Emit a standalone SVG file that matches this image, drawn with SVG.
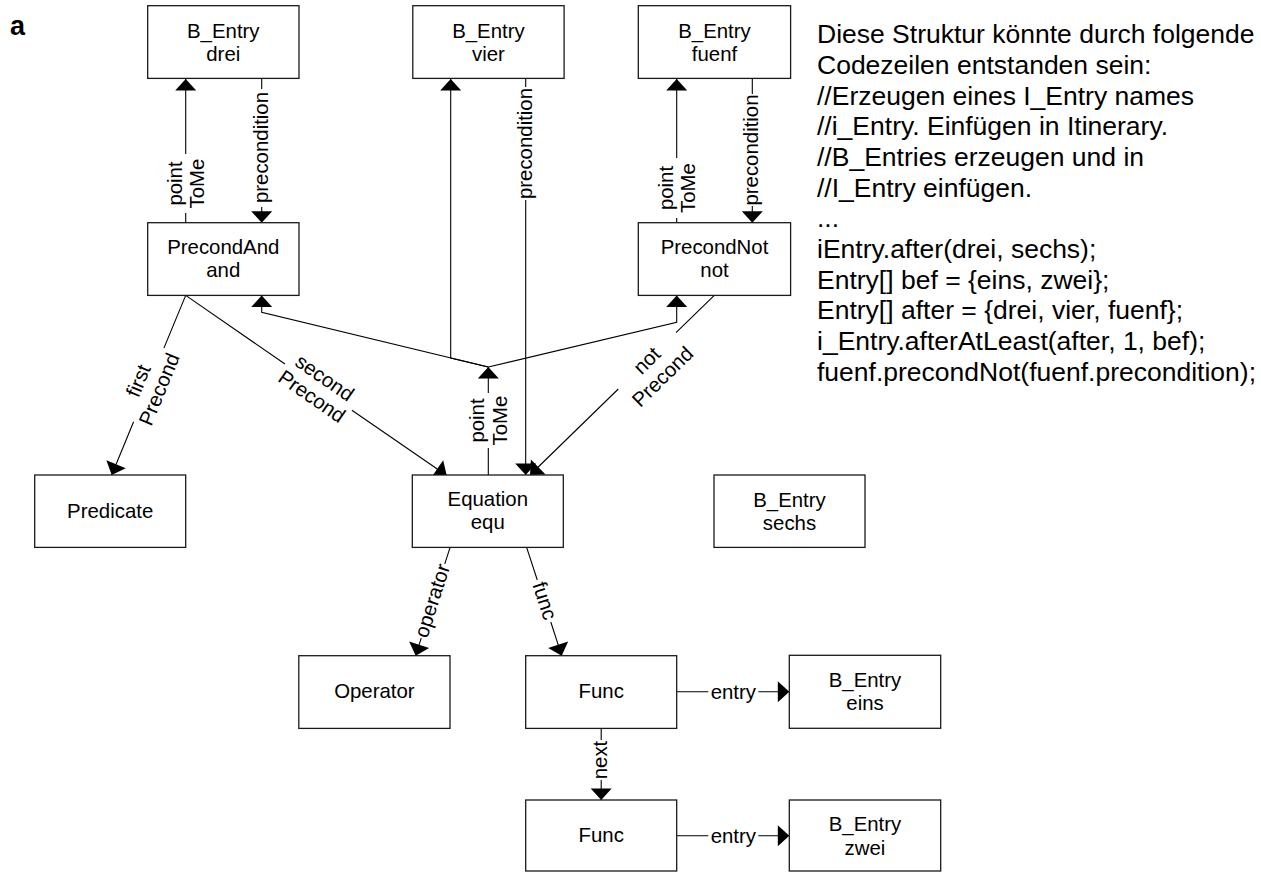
<svg xmlns="http://www.w3.org/2000/svg" width="1261" height="872" viewBox="0 0 1261 872">
  <defs>
    <style>
      .box { fill: #fff; stroke: #1a1a1a; stroke-width: 1.3; }
      .nt { font-family: "Liberation Sans", Arial, sans-serif; font-size: 20.4px; text-anchor: middle; fill: #000; }
      .el { font-family: "Liberation Sans", Arial, sans-serif; font-size: 20.4px; text-anchor: middle; fill: #000; }
      .cn { fill: none; stroke: #000; stroke-width: 1.1; marker-end: url(#arr); }
      .side { font-family: "Liberation Sans", Arial, sans-serif; font-size: 26.5px; fill: #000; }
      .tag { font-family: "Liberation Sans", Arial, sans-serif; font-size: 27px; font-weight: bold; fill: #000; }
    </style>
    <marker id="arr" markerUnits="userSpaceOnUse" markerWidth="13" markerHeight="22" viewBox="-12 -11 13 22" refX="0" refY="0" orient="auto">
      <path d="M0,0 L-11.5,-10.5 L-11.5,10.5 Z" fill="#000"/>
    </marker>
  </defs>

  <rect width="1261" height="872" fill="#fff"/>

  <text class="tag" x="10" y="35">a</text>

  <!-- connectors (lines are broken where a label sits) -->
  <g id="connectors">
    <!-- PrecondAnd -> drei : pointToMe -->
    <path class="cn" d="M185.7,222.7 V213 M185.7,154 V79"/>
    <g transform="translate(185.7,183.5) rotate(-90)">
      <text class="el" y="-4">point</text>
      <text class="el" y="18.5">ToMe</text>
    </g>
    <!-- drei -> PrecondAnd : precondition -->
    <path class="cn" d="M261.7,78.4 V89 M261.7,207 V222.7"/>
    <text class="el" transform="translate(261.7,147.5) rotate(-90)" y="6">precondition</text>

    <!-- PrecondAnd -> Predicate : firstPrecond -->
    <path class="cn" d="M185.7,295.4 L163.9,348.1 M133.6,421.7 L111.7,475"/>
    <g transform="translate(148.5,384.9) rotate(-67.65)">
      <text class="el" y="-4">first</text>
      <text class="el" y="18.5">Precond</text>
    </g>
    <!-- PrecondAnd -> Equation : secondPrecond -->
    <path class="cn" d="M185.7,295.4 L285,364 M351.9,410.2 L446.7,475.5"/>
    <g transform="translate(318.4,386.8) rotate(34.67)">
      <text class="el" y="-4">second</text>
      <text class="el" y="18.5">Precond</text>
    </g>

    <!-- PrecondNot -> Equation : notPrecond -->
    <path class="cn" d="M714.3,295.4 L676,332.7 M618.3,389 L530,475"/>
    <g transform="translate(647.1,360.9) rotate(-44.24)">
      <text class="el" y="6.5">not</text>
      <text class="el" y="29">Precond</text>
    </g>

    <!-- Equation -> junction : pointToMe -->
    <path class="cn" d="M488.3,475 V448 M488.3,393 V367"/>
    <g transform="translate(488.3,420.5) rotate(-90)">
      <text class="el" y="-4">point</text>
      <text class="el" y="18.5">ToMe</text>
    </g>
    <!-- junction branches -->
    <path class="cn" d="M488.3,367 L261.7,312.3 V295.5"/>
    <path class="cn" d="M488.3,367 L676.7,322.3 V295.5"/>
    <path class="cn" d="M488.3,367 L450.7,358 V79"/>

    <!-- vier -> Equation : precondition -->
    <path class="cn" d="M525.7,78.4 V87 M525.7,200 V475"/>
    <text class="el" transform="translate(525.7,143.5) rotate(-90)" y="6">precondition</text>

    <!-- PrecondNot -> fuenf : pointToMe -->
    <path class="cn" d="M676.7,222.7 V218 M676.7,158 V79"/>
    <g transform="translate(676.7,188) rotate(-90)">
      <text class="el" y="-4">point</text>
      <text class="el" y="18.5">ToMe</text>
    </g>
    <!-- fuenf -> PrecondNot : precondition -->
    <path class="cn" d="M752.3,78.4 V94 M752.3,206 V222.7"/>
    <text class="el" transform="translate(752.3,150) rotate(-90)" y="6">precondition</text>

    <!-- Equation -> Operator : operator -->
    <path class="cn" d="M450,547.7 L444.8,563.8 M421.2,638.2 L415.7,655.7"/>
    <text class="el" transform="translate(433,601) rotate(-72.44)" y="6">operator</text>
    <!-- Equation -> Func : func -->
    <path class="cn" d="M526.7,547.7 L537.3,580 M550.8,622 L561.7,655.7"/>
    <text class="el" transform="translate(544,601) rotate(72.1)" y="6">func</text>

    <!-- Func -> Func : next -->
    <path class="cn" d="M601.2,728.4 V740 M601.2,780 V800"/>
    <text class="el" transform="translate(601.2,760) rotate(-90)" y="6">next</text>

    <!-- Func -> B_Entry : entry -->
    <path class="cn" d="M676.7,691.7 H708.3 M758.3,691.7 H789.3"/>
    <text class="el" x="733.3" y="698.5">entry</text>
    <path class="cn" d="M676.7,835.7 H708.3 M758.3,835.7 H789.3"/>
    <text class="el" x="733.3" y="842.5">entry</text>
  </g>

  <!-- nodes -->
  <g id="drei">
    <rect class="box" x="147.7" y="5.7" width="151.3" height="72.7"/>
    <text class="nt" x="223.3" y="37.7">B_Entry</text>
    <text class="nt" x="223.3" y="61">drei</text>
  </g>
  <g id="vier">
    <rect class="box" x="412.8" y="5.7" width="151.3" height="72.7"/>
    <text class="nt" x="488.4" y="37.7">B_Entry</text>
    <text class="nt" x="488.4" y="61">vier</text>
  </g>
  <g id="fuenf">
    <rect class="box" x="638.3" y="5.7" width="152.3" height="72.7"/>
    <text class="nt" x="714.5" y="37.7">B_Entry</text>
    <text class="nt" x="714.5" y="61">fuenf</text>
  </g>
  <g id="precondAnd">
    <rect class="box" x="147.7" y="222.7" width="151.3" height="72.7"/>
    <text class="nt" x="223.3" y="253.5">PrecondAnd</text>
    <text class="nt" x="223.3" y="277">and</text>
  </g>
  <g id="precondNot">
    <rect class="box" x="638.3" y="222.7" width="152.3" height="72.7"/>
    <text class="nt" x="714.5" y="253.5">PrecondNot</text>
    <text class="nt" x="714.5" y="277">not</text>
  </g>
  <g id="predicate">
    <rect class="box" x="34.7" y="475" width="151" height="72.4"/>
    <text class="nt" x="110.2" y="517.5">Predicate</text>
  </g>
  <g id="equation">
    <rect class="box" x="412.3" y="475" width="151" height="72.4"/>
    <text class="nt" x="487.8" y="505.5">Equation</text>
    <text class="nt" x="487.8" y="529">equ</text>
  </g>
  <g id="sechs">
    <rect class="box" x="714" y="475" width="151" height="72.4"/>
    <text class="nt" x="789.5" y="506.5">B_Entry</text>
    <text class="nt" x="789.5" y="530">sechs</text>
  </g>
  <g id="operator">
    <rect class="box" x="298.8" y="655.7" width="151.2" height="72.7"/>
    <text class="nt" x="374.4" y="698">Operator</text>
  </g>
  <g id="func1">
    <rect class="box" x="525.7" y="655.7" width="151" height="72.7"/>
    <text class="nt" x="601.2" y="698">Func</text>
  </g>
  <g id="eins">
    <rect class="box" x="789.3" y="655.3" width="151.4" height="73"/>
    <text class="nt" x="865" y="686.7">B_Entry</text>
    <text class="nt" x="865" y="710">eins</text>
  </g>
  <g id="func2">
    <rect class="box" x="525.7" y="800" width="151" height="71"/>
    <text class="nt" x="601.2" y="842">Func</text>
  </g>
  <g id="zwei">
    <rect class="box" x="789.3" y="800" width="151.4" height="71"/>
    <text class="nt" x="865" y="831">B_Entry</text>
    <text class="nt" x="865" y="854.5">zwei</text>
  </g>

  <!-- code notes -->
  <g id="notes" class="side">
    <text x="817" y="43.3">Diese Struktur könnte durch folgende</text>
    <text x="817" y="74">Codezeilen entstanden sein:</text>
    <text x="817" y="104.7">//Erzeugen eines I_Entry names</text>
    <text x="817" y="135.3">//i_Entry. Einfügen in Itinerary.</text>
    <text x="817" y="166">//B_Entries erzeugen und in</text>
    <text x="817" y="196.7">//I_Entry einfügen.</text>
    <text x="817" y="227.3">...</text>
    <text x="817" y="258">iEntry.after(drei, sechs);</text>
    <text x="817" y="288.7">Entry[] bef = {eins, zwei};</text>
    <text x="817" y="319.3">Entry[] after = {drei, vier, fuenf};</text>
    <text x="817" y="350">i_Entry.afterAtLeast(after, 1, bef);</text>
    <text x="817" y="380.7">fuenf.precondNot(fuenf.precondition);</text>
  </g>
</svg>
